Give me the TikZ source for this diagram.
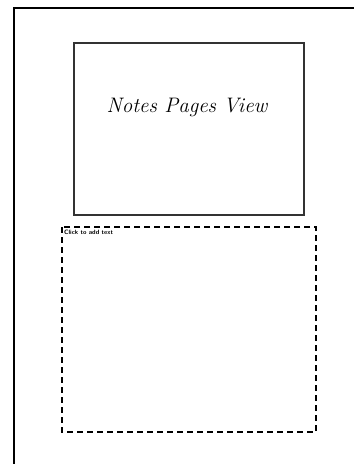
\documentclass[tikz,border=0pt]{standalone}
\usepackage{tikz}

\begin{document}
\begin{tikzpicture}[x=1pt,y=-1pt]
  \useasboundingbox (0,0) rectangle (354,464);
  \draw[line width=1.5pt] (14,464) -- (14,8) -- (354,8);
  \draw[line width=1.2pt, black!80] (74,43) rectangle (304,215);
  \node (title) at (187,107) {\fontsize{21}{24}\selectfont\itshape Notes Pages View};
  \draw[dash pattern=on 6pt off 4pt, line width=1.3pt] (62,227) rectangle (316,432);
  \node[anchor=north west, inner sep=0pt] (notes) at (64,229.5) {\fontsize{6.3}{7}\selectfont\sffamily\bfseries Click to add text};
\end{tikzpicture}
\end{document}
